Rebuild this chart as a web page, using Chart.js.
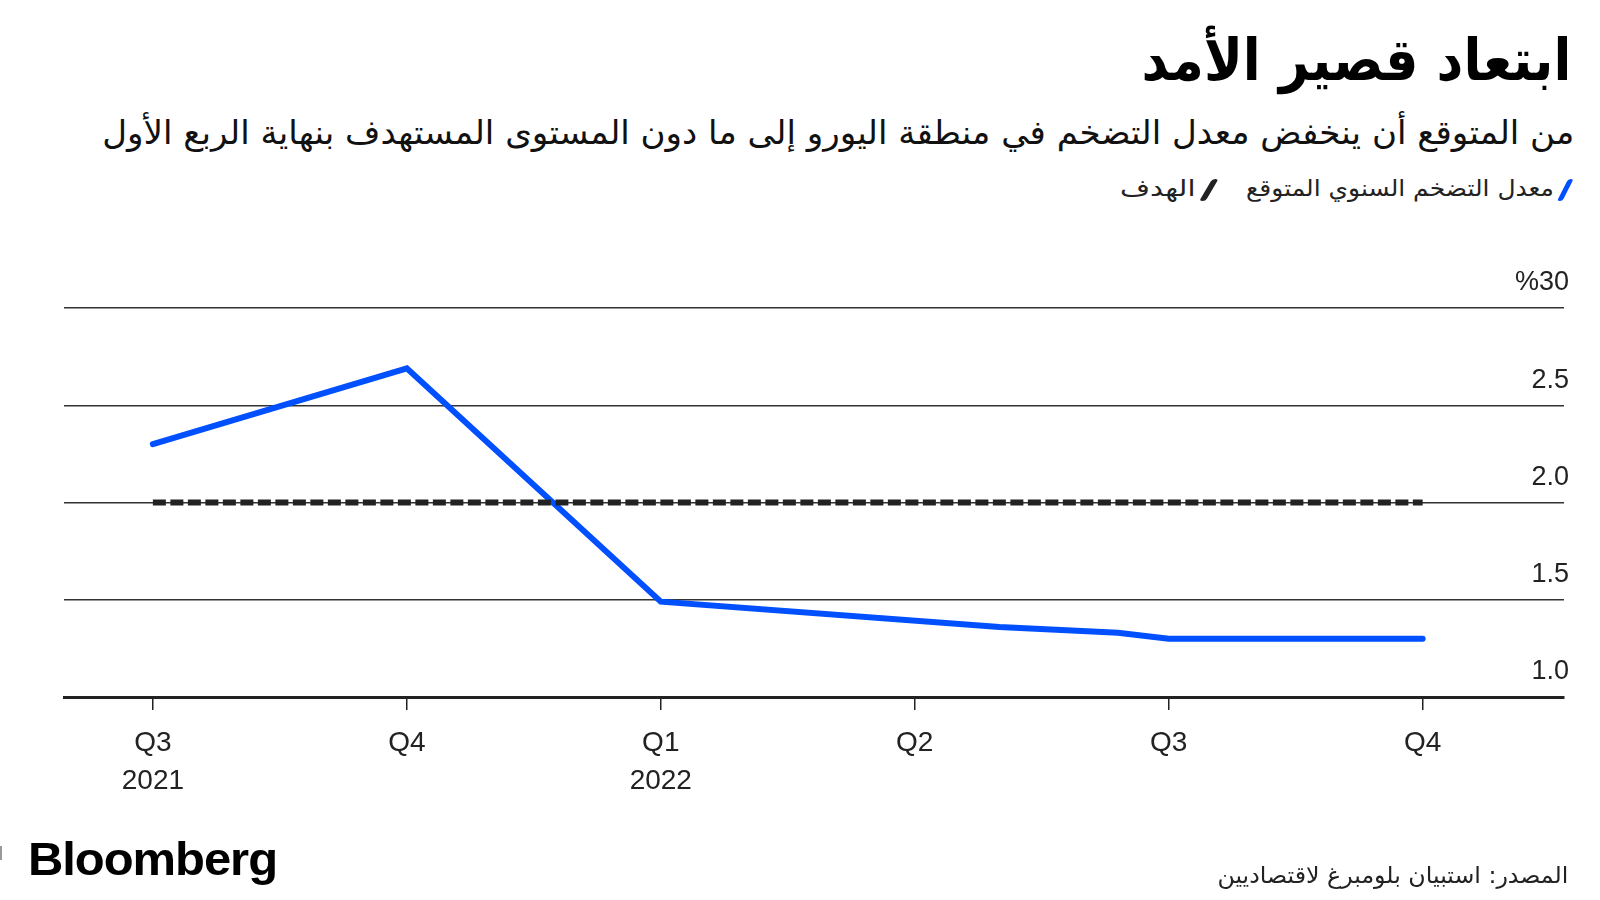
<!DOCTYPE html>
<html lang="ar">
<head>
<meta charset="utf-8">
<script src="https://cdn.jsdelivr.net/npm/chart.js@4/dist/chart.umd.min.js"></script>
<style>
  html, body { margin: 0; padding: 0; background: #fff; }
  body { width: 1600px; height: 900px; position: relative; overflow: hidden; font-family: "DejaVu Sans", sans-serif; color: #111; }
  .t { position: absolute; direction: rtl; white-space: nowrap; transform-origin: right center; }
  #title { right: 29px; top: 22px; font-size: 58px; font-weight: bold; line-height: 76px; color: #000; }
  #subtitle { right: 26px; top: 112px; font-family: "DejaVu Sans Condensed", "DejaVu Sans", sans-serif; font-size: 33px; line-height: 42px; color: #111; }
  #legend { right: 32px; top: 173px; font-size: 23px; line-height: 30px; color: #222; }
  .sw { display: inline-block; width: 5px; height: 22px; border-radius: 3px; transform: skewX(-25deg); margin-left: 8px; vertical-align: middle; }
  #leg2 { position: absolute; right: 388px; top: 173px; direction: rtl; white-space: nowrap; font-size: 23px; line-height: 30px; color: #222; transform-origin: right center; }
  #source { right: 32px; top: 860px; font-family: "DejaVu Sans Condensed", "DejaVu Sans", sans-serif; font-size: 23px; line-height: 30px; color: #222; }
  #logo { position: absolute; left: 28px; top: 831px; font-family: "Liberation Sans", Arial, sans-serif; font-weight: bold; font-size: 47px; letter-spacing: -1px; line-height: 56px; color: #000; transform-origin: left center; }
  #mark { position: absolute; left: 0; top: 846px; width: 2px; height: 14px; background: #999; }
  #wrap { position: absolute; left: 0; top: 0; width: 1600px; height: 900px; }
</style>
</head>
<body>
<div id="title" class="t">ابتعاد قصير الأمد</div>
<div id="subtitle" class="t">من المتوقع أن ينخفض معدل التضخم في منطقة اليورو إلى ما دون المستوى المستهدف بنهاية الربع الأول</div>
<div id="legend" class="t"><span class="sw" style="background:#0050ff"></span><span id="leg1txt">معدل التضخم السنوي المتوقع</span></div>
<div id="leg2"><span class="sw" style="background:#222"></span><span>الهدف</span></div>
<div id="wrap"><canvas id="c" width="1600" height="900"></canvas></div>
<div id="logo">Bloomberg</div>
<div id="mark"></div>
<div id="source" class="t">المصدر: استبيان بلومبرغ لاقتصاديين</div>
<script>
// ---- data (months since Jul 2021) ----
const forecastMonths = [0, 3, 6, 10, 11.4, 12, 15];
const forecastValues = [2.30, 2.69, 1.49, 1.36, 1.33, 1.30, 1.30];
const targetMonths = [0, 15];
const targetValues = [2.0, 2.0];
const xTickPositions = [0, 3, 6, 9, 12, 15];
const xTickLabels = [["Q3", "2021"], "Q4", ["Q1", "2022"], "Q2", "Q3", "Q4"];
const yTickValues = [1.0, 1.5, 2.0, 2.5, 3.0];
const yTickLabels = ["1.0", "1.5", "2.0", "2.5", "%30"];

// fit text blocks horizontally to the reference widths
function fitW(id, target) {
  const el = document.getElementById(id);
  const w = el.getBoundingClientRect().width;
  if (w > 0) el.style.transform = 'scaleX(' + (target / w) + ')';
}
fitW('title', 430);
fitW('subtitle', 1472);
fitW('legend', 322);
fitW('leg2', 92);
fitW('source', 351);
fitW('logo', 249);

const toPts = (xs, ys) => xs.map((x, i) => ({ x: x, y: ys[i] }));

new Chart(document.getElementById('c'), {
  type: 'line',
  data: {
    datasets: [
      {
        label: 'الهدف',
        data: toPts(targetMonths, targetValues),
        borderColor: '#222',
        borderWidth: 6,
        borderDash: [13, 4.5],
        pointRadius: 0,
        tension: 0
      },
      {
        label: 'معدل التضخم السنوي المتوقع',
        data: toPts(forecastMonths, forecastValues),
        borderColor: '#0050ff',
        borderWidth: 6,
        borderCapStyle: 'round',
        borderJoinStyle: 'miter',
        pointRadius: 0,
        tension: 0
      }
    ]
  },
  options: {
    responsive: false,
    animation: false,
    events: [],
    layout: { padding: { left: 64, right: 36, top: 308, bottom: 93 } },
    plugins: { legend: { display: false }, tooltip: { enabled: false } },
    scales: {
      x: {
        type: 'linear',
        min: -1.05,
        max: 16.67,
        afterBuildTicks: (s) => { s.ticks = xTickPositions.map(v => ({ value: v })); },
        afterFit: (s) => { s.height = 110; },
        grid: { drawOnChartArea: false, drawTicks: true, tickLength: 13, color: '#222', tickColor: '#222', lineWidth: 1.5 },
        border: { display: true, color: '#222', width: 3 },
        ticks: {
          padding: 14,
          maxRotation: 0,
          autoSkip: false,
          color: '#222',
          font: { family: 'Liberation Sans', size: 28, lineHeight: 1.36 },
          callback: (v) => { const i = xTickPositions.indexOf(v); return i >= 0 ? xTickLabels[i] : ''; }
        }
      },
      y: {
        position: 'right',
        min: 1.0,
        max: 3.0,
        afterBuildTicks: (s) => { s.ticks = yTickValues.map(v => ({ value: v })); },
        afterFit: (s) => { s.width = 0; },
        grid: { drawTicks: false, color: '#333', lineWidth: 1.5 },
        border: { display: false },
        ticks: {
          mirror: true,
          padding: 5,
          labelOffset: -25,
          color: '#222',
          font: { family: 'Liberation Sans', size: 27 },
          callback: (v) => { const i = yTickValues.indexOf(v); return i >= 0 ? yTickLabels[i] : ''; }
        }
      }
    }
  }
});
</script>
</body>
</html>
